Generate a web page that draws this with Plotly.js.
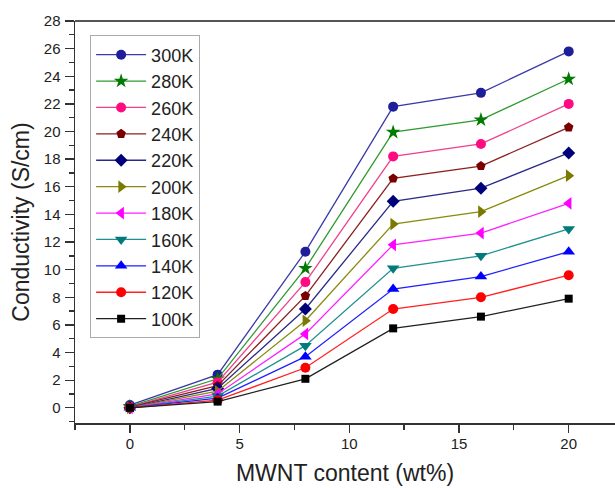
<!DOCTYPE html>
<html>
<head>
<meta charset="utf-8">
<script src="https://cdn.plot.ly/plotly-3.0.1.min.js"></script>
<style>
html,body{margin:0;padding:0;background:#fff;}
#chart{width:615px;height:488px;}
</style>
</head>
<body>
<div id="chart"></div>
<script>
// MWNT content (wt%)
var content = [0, 4, 8, 12, 16, 20];
// Conductivity (S/cm) per temperature
var c300 = [0.2, 2.4, 11.3, 21.8, 22.8, 25.8];
var c280 = [0.1, 2.1, 10.1, 19.95, 20.85, 23.8];
var c260 = [0.05, 1.85, 9.1, 18.2, 19.1, 22.0];
var c240 = [0.05, 1.6, 8.1, 16.6, 17.5, 20.3];
var c220 = [0.0, 1.4, 7.15, 14.95, 15.9, 18.45];
var c200 = [0.0, 1.2, 6.3, 13.3, 14.2, 16.8];
var c180 = [0.0, 1.0, 5.35, 11.8, 12.65, 14.8];
var c160 = [0.0, 0.85, 4.5, 10.1, 11.0, 12.95];
var c140 = [0.0, 0.7, 3.7, 8.6, 9.5, 11.3];
var c120 = [0.0, 0.55, 2.9, 7.15, 8.0, 9.6];
var c100 = [0.0, 0.45, 2.1, 5.75, 6.6, 7.9];
var seriesNames = ['300K','280K','260K','240K','220K','200K','180K','160K','140K','120K','100K'];
var seriesValues = [c300,c280,c260,c240,c220,c200,c180,c160,c140,c120,c100];

var styles = [
  {line:'#3a3aa8', marker:'#1e1e9a', symbol:'circle', size:10},
  {line:'#2f9a2f', marker:'#007a00', symbol:'star', size:11},
  {line:'#f0408c', marker:'#ff0a80', symbol:'circle', size:10},
  {line:'#8a2020', marker:'#7a0000', symbol:'pentagon', size:10},
  {line:'#2a2a8a', marker:'#00007a', symbol:'diamond', size:10},
  {line:'#8a8a10', marker:'#7a7a00', symbol:'triangle-right', size:11},
  {line:'#ff20ff', marker:'#ff00ff', symbol:'triangle-left', size:11},
  {line:'#209090', marker:'#007a7a', symbol:'triangle-down', size:11},
  {line:'#2020ff', marker:'#0000ff', symbol:'triangle-up', size:11},
  {line:'#ff2020', marker:'#ff0000', symbol:'circle', size:10},
  {line:'#202020', marker:'#000000', symbol:'square', size:8}
];

var traces = seriesNames.map(function(n, i){
  return {
    type:'scatter', mode:'lines+markers', name:n,
    x: content, y: seriesValues[i],
    line:{color:styles[i].line, width:1.3},
    marker:{color:styles[i].marker, symbol:styles[i].symbol, size:styles[i].size, line:{width:0}}
  };
});

var fontFam = 'Arial, "Liberation Sans", sans-serif';
var layout = {
  width:615, height:488,
  margin:{l:75, r:0, t:21, b:65, pad:0},
  paper_bgcolor:'#fff', plot_bgcolor:'#fff',
  font:{family:fontFam, color:'#222'},
  showlegend:true,
  legend:{
    x:0.028, y:0.964, xanchor:'left', yanchor:'top',
    bgcolor:'#fff', bordercolor:'#aaa', borderwidth:1,
    font:{family:fontFam, size:18, color:'#222'},
    itemwidth:50, tracegroupgap:0
  },
  xaxis:{
    range:[-2.5, 22.11], tick0:0, dtick:5,
    showgrid:false, zeroline:false,
    showline:true, linecolor:'#333', linewidth:1.5,
    ticks:'outside', ticklen:8, tickwidth:1.3, tickcolor:'#333',
    ticklabelstandoff:-2,
    tickfont:{family:fontFam, size:15, color:'#222'},
    minor:{dtick:2.5, ticks:'outside', ticklen:5, tickwidth:1.3, tickcolor:'#333'},
    title:{text:'MWNT content (wt%)', font:{family:fontFam, size:23, color:'#222'}, standoff:14},
    automargin:false
  },
  yaxis:{
    range:[-1.1, 28], tick0:0, dtick:2,
    showgrid:false, zeroline:false,
    showline:true, linecolor:'#333', linewidth:1.5,
    ticks:'outside', ticklen:9, tickwidth:1.3, tickcolor:'#333',
    ticklabelstandoff:1,
    tickfont:{family:fontFam, size:15, color:'#222'},
    minor:{dtick:1, ticks:'outside', ticklen:5, tickwidth:1.3, tickcolor:'#333'},
    title:{text:'Conductivity (S/cm)', font:{family:fontFam, size:23, color:'#222'}, standoff:8},
    automargin:false
  },
  shapes:[{type:'line', xref:'paper', yref:'paper', x0:0, x1:1, y0:1, y1:1,
           line:{color:'#555', width:2}}]
};

Plotly.newPlot('chart', traces, layout, {displayModeBar:false, staticPlot:true});
</script>
</body>
</html>
